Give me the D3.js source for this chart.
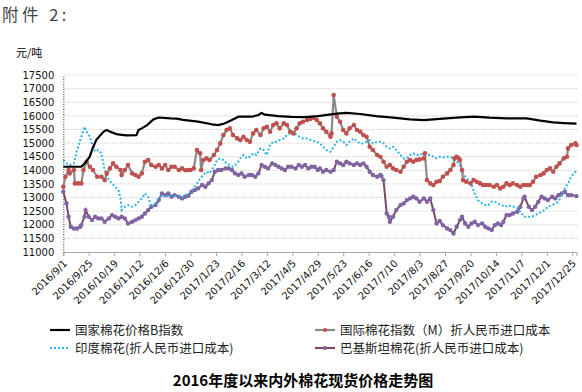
<!DOCTYPE html>
<html><head><meta charset="utf-8">
<script src="https://cdn.jsdelivr.net/npm/d3@7/dist/d3.min.js"></script>
<style>body{margin:0;background:#fff}svg{display:block}</style>
</head><body>
<script>
// ---------- DATA ----------
const startDate = "2016/9/1";
const xTickLabels = ["2016/9/1","2016/9/25","2016/10/19","2016/11/12","2016/12/6","2016/12/30","2017/1/23","2017/2/16","2017/3/12","2017/4/5","2017/4/29","2017/5/23","2017/6/16","2017/7/10","2017/8/3","2017/8/27","2017/9/20","2017/10/14","2017/11/7","2017/12/1","2017/12/25"];
const yTicks = [11000,11500,12000,12500,13000,13500,14000,14500,15000,15500,16000,16500,17000,17500];
const seriesNames = ["国家棉花价格B指数","国际棉花指数（M）折人民币进口成本","印度棉花(折人民币进口成本)","巴基斯坦棉花(折人民币进口成本)"];

// days since 2016/9/1
const bDays = [0,17,20,25,27,31,38,41,44,50,57,60,69,71,74,79,85,90,101,107,113,127,140,146,152,159,165,178,184,187,190,203,215,228,240,258,267,280,295,311,327,340,355,371,387,402,418,437,450,462,472,484];
const bValues = [14130,14130,14250,14500,14740,15110,15420,15480,15420,15330,15295,15280,15295,15480,15540,15660,15870,15940,15910,15900,15850,15785,15690,15660,15720,15846,15969,15969,16030,16110,16042,15993,15960,15950,15990,16080,16110,16067,15993,15932,15871,15846,15890,15932,15969,15932,15908,15908,15822,15761,15736,15712];

const mDays = [0,2,5,6,10,11,14,17,19,22,25,28,32,36,39,41,44,47,50,54,55,58,61,65,68,71,74,77,80,83,87,90,93,96,99,102,105,109,112,115,118,120,123,126,129,130,132,135,138,142,145,148,151,154,157,160,164,167,170,173,176,179,182,186,189,192,195,198,201,204,208,211,214,217,220,223,226,230,233,236,239,242,245,248,252,253,255,258,261,264,267,270,274,277,280,283,286,289,292,296,299,302,305,308,311,314,318,321,324,327,330,333,336,340,341,343,346,349,352,355,358,362,365,368,369,371,373,374,376,377,380,384,387,390,393,396,399,402,406,409,412,415,418,421,424,428,431,434,437,440,443,446,450,453,456,459,462,465,468,472,475,476,479,483,484];
const mValues = [13396,13764,14009,13887,14009,13519,13519,13519,14009,14315,14131,14009,13764,13764,13641,13887,14070,14254,14131,14009,13825,14009,14193,13887,13825,13764,13887,14315,14377,14193,14131,14193,14070,14193,14009,14131,14131,14009,14070,14000,14009,14009,14070,14744,14622,14009,14377,14438,14377,14560,14744,14989,15295,15479,15540,15295,15172,15111,15234,15111,15050,15356,15479,15295,15540,15601,15418,15663,15724,15540,15724,15663,15418,15356,15540,15724,15785,15846,15890,15930,15846,15724,15540,15418,15234,15356,16765,15969,15785,15479,15356,15540,15663,15479,15418,15295,15234,14866,14744,14560,14499,14315,14131,14193,14070,14009,13948,14131,14315,14377,14315,14377,14401,14438,14622,13641,13519,13458,13580,13610,13764,13887,14009,14193,14438,14499,14438,14377,14009,13641,13580,13519,13641,13580,13519,13458,13458,13458,13396,13458,13335,13396,13519,13458,13519,13458,13396,13458,13458,13458,13580,13764,13825,13887,14009,14070,13948,14131,14254,14438,14499,14805,14928,14989,14928];

const iDays = [0,3,6,10,13,16,20,22,25,27,30,33,36,39,43,46,49,52,54,55,58,61,65,68,71,74,77,80,83,87,90,93,96,101,107,113,118,123,126,129,132,135,138,142,145,148,151,154,157,160,164,167,170,173,176,179,182,186,189,192,195,198,201,204,208,211,214,217,220,223,226,230,233,236,239,242,245,248,252,255,258,261,264,267,270,274,277,280,283,286,289,292,296,299,302,305,308,311,314,318,321,324,327,330,333,336,340,343,346,349,352,355,358,362,365,368,371,373,376,379,382,385,388,391,395,398,401,404,407,410,413,417,420,423,426,429,432,435,439,442,445,448,451,454,457,461,464,467,470,473,476,479,483,484];
const iValues = [14376,14254,14193,14254,14744,15111,15601,15418,15234,14989,14683,14744,14622,14009,13641,13519,13396,13274,12968,12539,12661,12723,12661,12723,12845,12968,13151,13029,12661,12784,12968,13090,13029,13090,13053,13029,13151,13335,13519,13703,13825,13948,13887,14131,14377,14438,14377,14254,14193,14131,14254,14438,14560,14438,14499,14622,14560,14805,14744,14560,14928,15050,15050,15111,15172,15295,15356,15418,15295,15234,15172,15172,15120,15080,15050,14989,14866,14744,14683,14866,15050,15111,15050,14928,15050,15172,15050,14989,14989,15050,15111,14989,15050,15050,14989,14866,14805,14866,14744,14560,14438,14438,14560,14622,14560,14560,14622,14560,14560,14499,14438,14499,14475,14499,14499,14438,14315,14254,14009,13764,13641,13458,13151,12906,12784,12723,12723,12845,12845,12784,12723,12661,12723,12661,12661,12600,12416,12294,12294,12294,12355,12416,12478,12539,12661,12723,12784,12845,13090,13335,13519,13764,13948,14009];

const pDays = [0,3,5,7,10,13,16,17,20,21,24,27,30,33,36,39,43,46,49,52,55,58,61,65,68,71,74,77,80,83,87,90,93,96,99,102,105,109,112,115,118,121,124,127,131,134,137,140,143,146,149,153,156,159,162,165,168,171,175,178,181,184,187,190,193,197,200,203,206,209,212,215,219,222,225,228,231,234,237,240,242,245,248,252,255,258,261,264,267,270,274,277,280,283,286,289,292,296,299,300,302,305,307,308,311,314,318,321,324,327,330,333,336,340,343,346,349,352,355,358,362,365,368,371,374,376,379,382,385,388,391,395,398,401,404,407,410,413,415,418,421,424,428,431,434,435,439,442,445,448,451,454,457,461,464,467,470,473,476,479,484];
const pValues = [13213,12784,12294,11926,11865,11865,11926,11988,12294,12539,12294,12171,12294,12233,12233,12110,12233,12355,12294,12233,12294,12233,12049,12110,12171,12233,12294,12416,12539,12661,12723,12906,13151,13090,13151,13029,13090,13029,12968,13029,13070,13213,13274,13335,13458,13396,13519,13641,13948,14009,14009,14070,14070,14009,13887,13825,13887,13764,13825,13825,13764,13887,14193,14131,14070,14254,14193,14131,14070,14009,14131,14131,14070,14193,14131,14193,14070,14131,14131,14009,14070,13948,14009,13948,14009,14315,14254,14193,14315,14254,14193,14254,14193,14254,14131,13948,13825,13764,13825,13790,13641,12416,12294,12110,12294,12539,12723,12784,12906,12968,13029,12968,12845,12968,12845,12968,12539,12049,12140,11988,11865,11804,11681,11926,12171,12294,12049,11926,12049,12110,11988,12049,11926,11865,11804,11988,12049,11988,12110,12355,12355,12416,12478,12661,12968,13029,12661,12539,12661,12845,13029,12968,12906,13029,12968,13090,13151,13213,13090,13090,13053];

// ---------- CHART ----------
const W = 582, H = 392;
const parse = d3.timeParse("%Y/%m/%d");
const t0 = parse(startDate);
const toDate = d => d3.timeDay.offset(t0, d);

const svg = d3.select("body").append("svg").attr("width", W).attr("height", H)
  .style("font-family", "'Noto Sans CJK SC', sans-serif");
svg.append("rect").attr("width", W).attr("height", H).attr("fill", "#fff");

const x = d3.scaleTime().domain([t0, toDate(484)]).range([63.3, 576.5]);
const y = d3.scaleLinear().domain([11000, 17500]).range([252, 75]);

// header texts
svg.append("text").attr("x", 2).attr("y", 21).text("附件 2:")
  .attr("font-size", 16.5).attr("fill", "#444").attr("letter-spacing", 3.5)
  .style("font-family", "'Noto Sans CJK SC', serif");
svg.append("text").attr("x", 16).attr("y", 57).text("元/吨")
  .attr("font-size", 11).attr("fill", "#000");

// grid
svg.append("g").selectAll("line").data(yTicks.filter(v => v > 11000)).join("line")
  .attr("x1", 64).attr("x2", 577).attr("y1", d => y(d)).attr("y2", d => y(d))
  .attr("stroke", "#cfcfcf").attr("stroke-width", 1).attr("stroke-dasharray", "1,1");

// y axis
const yAxis = svg.append("g").attr("transform", "translate(63.3,0)")
  .call(d3.axisLeft(y).tickValues(yTicks).tickSize(0).tickPadding(9).tickFormat(d3.format("d")));
yAxis.select(".domain").attr("stroke", "#333").attr("stroke-dasharray", "1,1.5");
yAxis.selectAll("text").attr("font-size", 10).attr("fill", "#111")
  .style("font-family", "'DejaVu Sans', sans-serif");

// x axis
const tickDates = xTickLabels.map(parse);
const xAxis = svg.append("g").attr("transform", "translate(0,252)")
  .call(d3.axisBottom(x).tickValues(tickDates).tickSize(4).tickFormat((d, i) => xTickLabels[i]));
xAxis.select(".domain").attr("stroke", "#a6a6a6");
xAxis.selectAll(".tick line").attr("stroke", "#a6a6a6");
xAxis.selectAll("text").attr("font-size", 10).attr("fill", "#111")
  .style("font-family", "'DejaVu Sans', sans-serif")
  .attr("text-anchor", "end").attr("dy", 0).attr("y", 0)
  .attr("transform", "translate(4,12) rotate(-45)");

const line = d3.line().x(d => x(toDate(d[0]))).y(d => y(d[1]));
const zip = (a, b) => a.map((d, i) => [d, b[i]]);

const bData = zip(bDays, bValues), mData = zip(mDays, mValues), iData = zip(iDays, iValues), pData = zip(pDays, pValues);

const plot = svg.append("g");
// Pakistan
plot.append("path").datum(pData).attr("d", line).attr("fill", "none").attr("stroke", "#7b4a68").attr("stroke-width", 2);
plot.append("g").selectAll("circle").data(pData).join("circle")
  .attr("cx", d => x(toDate(d[0]))).attr("cy", d => y(d[1])).attr("r", 2.2).attr("fill", "#8064a2");
// India
plot.append("path").datum(iData).attr("d", line).attr("fill", "none").attr("stroke", "#2fb3e4")
  .attr("stroke-width", 2).attr("stroke-dasharray", "2,2");
// International M
plot.append("path").datum(mData).attr("d", line).attr("fill", "none").attr("stroke", "#8a8a8a").attr("stroke-width", 2.2);
plot.append("g").selectAll("circle").data(mData).join("circle")
  .attr("cx", d => x(toDate(d[0]))).attr("cy", d => y(d[1])).attr("r", 2.3).attr("fill", "#c0504d");
// National B
plot.append("path").datum(bData).attr("d", line).attr("fill", "none").attr("stroke", "#000").attr("stroke-width", 2.2)
  .attr("stroke-linejoin", "round");

// legend
const leg = svg.append("g").attr("font-size", 12.5).attr("fill", "#222");
const legItems = [
  {x: 50, y: 330, name: seriesNames[0], stroke: "#000", dash: null, marker: null},
  {x: 315, y: 330, name: seriesNames[1], stroke: "#8a8a8a", dash: null, marker: "#c0504d"},
  {x: 50, y: 348, name: seriesNames[2], stroke: "#2fb3e4", dash: "2,2", marker: null},
  {x: 315, y: 348, name: seriesNames[3], stroke: "#7b4a68", dash: null, marker: "#8064a2"}
];
legItems.forEach(it => {
  leg.append("line").attr("x1", it.x).attr("x2", it.x + 20).attr("y1", it.y).attr("y2", it.y)
    .attr("stroke", it.stroke).attr("stroke-width", 2.2).attr("stroke-dasharray", it.dash);
  if (it.marker) leg.append("circle").attr("cx", it.x + 10).attr("cy", it.y).attr("r", 2).attr("fill", it.marker);
  leg.append("text").attr("x", it.x + 25).attr("y", it.y).attr("dy", "0.36em").text(it.name);
});

// title
svg.append("text").attr("x", 303).attr("y", 386).attr("text-anchor", "middle")
  .attr("font-size", 15).attr("font-weight", "bold").attr("fill", "#000")
  .text("2016年度以来内外棉花现货价格走势图");
</script>
</body></html>
